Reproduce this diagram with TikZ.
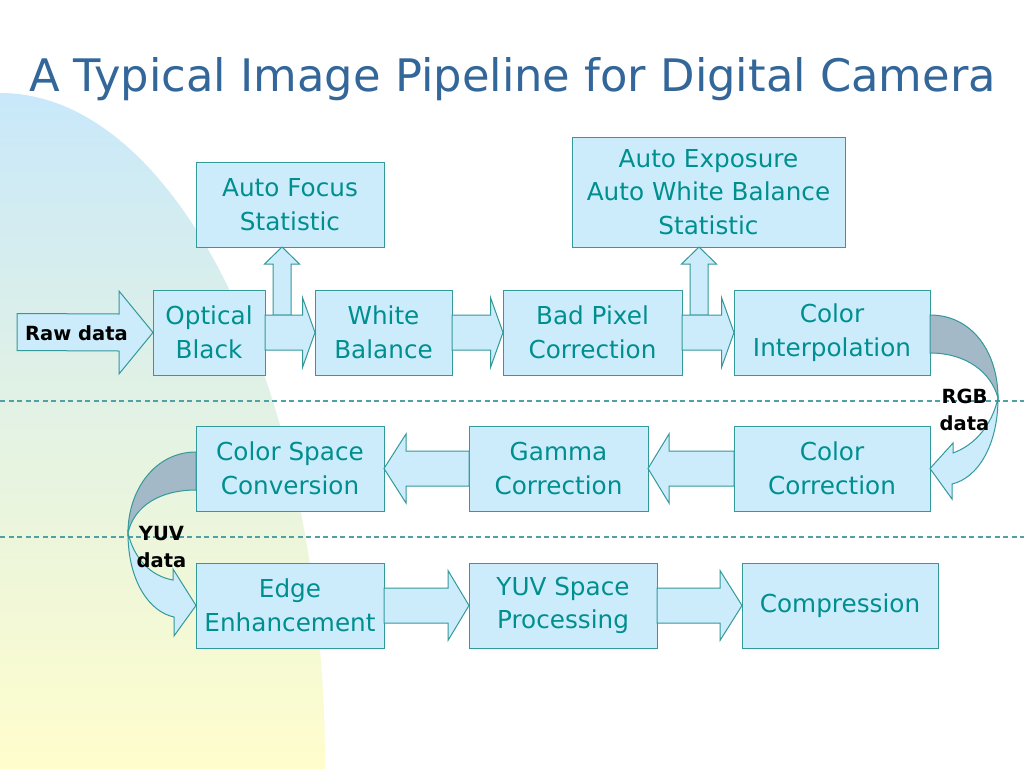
\documentclass[tikz,border=0pt]{standalone}
\usepackage{fontspec}
\setmainfont{DejaVu Sans}
\usepackage{xcolor}
\usepackage{tikz}
\usetikzlibrary{positioning}
\usetikzlibrary{calc}
\definecolor{boxfill}{RGB}{204,236,252}
\definecolor{boxline}{RGB}{51,153,153}
\definecolor{boxtext}{RGB}{0,143,143}
\definecolor{titleblue}{RGB}{51,102,153}
\definecolor{bandshade}{RGB}{163,185,200}
\definecolor{bgblue}{RGB}{200,232,250}
\definecolor{bgyellow}{RGB}{255,253,204}
\definecolor{septeal}{RGB}{80,160,165}
\tikzset{%
  stagebox/.style={rectangle,draw=boxline,fill=boxfill,text=boxtext,line width=1pt,align=center,inner sep=0pt,outer sep=0pt,minimum height=85pt,font=\fontsize{24.7}{33.5}\selectfont}
}
\tikzset{%
  blockarrow/.style={draw=boxline,fill=boxfill,line width=1pt,line join=miter}
}
\tikzset{%
  bandback/.style={draw=boxline,fill=bandshade,line width=1pt}
}
\tikzset{%
  datalabel/.style={align=center,inner sep=0pt,font=\bfseries\fontsize{19.5}{27}\selectfont}
}
\tikzset{%
  sepline/.style={draw=septeal,line width=1.2pt,dash pattern=on 5pt off 3.5pt}
}
% block arrow from #1 to #2, #3 signed head length, #4 half body, #5 half head
\newcommand{\pipearrow}[5]{%
  \draw[blockarrow] ($(#1)+(0,-#4)$) -- ($(#2)+(#3,-#4)$) -- ($(#2)+(#3,-#5)$) -- (#2)
    -- ($(#2)+(#3,#5)$) -- ($(#2)+(#3,#4)$) -- ($(#1)+(0,#4)$) -- cycle;}
% upward arrow to a statistic box: #1 tip, #2 foot of the shaft
\newcommand{\statarrow}[2]{%
  \draw[blockarrow] ($(#2)+(-9,0)$) -- ($(#1)+(-9,17)$) -- ($(#1)+(-17.5,17)$) -- (#1)
    -- ($(#1)+(17.5,17)$) -- ($(#1)+(9,17)$) -- ($(#2)+(9,0)$) -- cycle;}

\begin{document}
\begin{tikzpicture}[x=1pt,y=-1pt]
            \useasboundingbox (0,0) rectangle (1024,768);
            \fill[white] (0,0) rectangle (1024,768);
            \begin{scope}
                \clip (0,768) ellipse (325 and 675);
                \shade[top color=bgblue,bottom color=bgyellow] (0,90) rectangle (330,768);
            \end{scope}
            \draw[sepline] (0,401) -- (1024,401);
            \draw[sepline] (0,537) -- (1024,537);

            \node[anchor=base,text=titleblue,font=\fontsize{44.8}{50}\selectfont] (title) at (512.5,91) {A Typical Image Pipeline for Digital Camera};

            \node[stagebox,minimum width=112pt] (ob) at (209,332.5) {Optical\\Black};
            \node[stagebox,minimum width=137pt,right=50pt of ob] (wb) {White\\Balance};
            \node[stagebox,minimum width=179pt,right=51pt of wb] (bp) {Bad Pixel\\Correction};
            \node[stagebox,minimum width=196pt,right=52pt of bp] (ci) {Color\\Interpolation};
            \node[stagebox,minimum width=196pt,below=51pt of ci] (cc) {Color\\Correction};
            \node[stagebox,minimum width=179pt,left=86pt of cc] (gc) {Gamma\\Correction};
            \node[stagebox,minimum width=188pt,left=85pt of gc] (cs) {Color Space\\Conversion};
            \node[stagebox,minimum width=188pt,below=52pt of cs] (ee) {Edge\\Enhancement};
            \node[stagebox,minimum width=188pt,right=85pt of ee] (yp) {YUV Space\\Processing};
            \node[stagebox,minimum width=196pt,right=85pt of yp] (cp) {Compression};
            \node[stagebox,minimum width=188pt] (af) at (290,204.5) {Auto Focus\\Statistic};
            \node[stagebox,minimum width=273pt,minimum height=110pt] (ae) at (708.5,192) {Auto Exposure\\Auto White Balance\\Statistic};

            % statistics taps
            \coordinate (aftip) at ($(af.south)+(-8,0)$);
            \coordinate (affoot) at ($(aftip |- ob.center)+(0,-17.5)$);
            \statarrow{aftip}{affoot}
            \coordinate (aetip) at ($(ae.south)+(-9.5,0)$);
            \coordinate (aefoot) at ($(aetip |- bp.center)+(0,-17.5)$);
            \statarrow{aetip}{aefoot}

            % main flow
            \coordinate (rawin) at (17,332);
            \pipearrow{rawin}{ob.west}{-34}{18.5}{41.5}
            \node[datalabel] (rawlabel) at (76.5,333) {Raw data};
            \pipearrow{ob.east}{wb.west}{-12.5}{17.5}{35}
            \pipearrow{wb.east}{bp.west}{-12.5}{17.5}{35}
            \pipearrow{bp.east}{ci.west}{-12.5}{17.5}{35}
            \pipearrow{cc.west}{gc.east}{21}{17.5}{34.5}
            \pipearrow{gc.west}{cs.east}{22}{17.5}{34.5}
            \pipearrow{ee.east}{yp.west}{-21}{17.5}{35}
            \pipearrow{yp.east}{cp.west}{-22}{17.5}{35}

            % turn from interpolation to correction
            \draw[bandback] ($(ci.east)+(0,-17.5)$) .. controls (972,315) and (998,352) .. (998,398)
                .. controls (991,372) and (966,353) .. ($(ci.east)+(0,20.5)$) -- cycle;
            \draw[blockarrow] (998,398) .. controls (998,445) and (978,478) .. (952,484) -- (952,499) -- (cc.east)
                -- (953,443) -- (953,453) .. controls (975,445) and (992,425) .. (998,398) -- cycle;
            \node[datalabel] (rgblabel) at (964.5,410) {RGB\\data};

            % turn from conversion to edge enhancement
            \draw[bandback] ($(cs.west)+(0,-16.5)$) .. controls (155,452) and (128,490) .. (128,533)
                .. controls (134,506) and (160,490) .. ($(cs.west)+(0,21.5)$) -- cycle;
            \draw[blockarrow] (128,533) .. controls (128,582) and (150,612) .. (174,617) -- (174,636) -- (ee.west)
                -- (173,569) -- (173,580) .. controls (150,576) and (134,558) .. (128,533) -- cycle;
            \node[datalabel] (yuvlabel) at (161.5,547) {YUV\\data};
\end{tikzpicture}
\end{document}
